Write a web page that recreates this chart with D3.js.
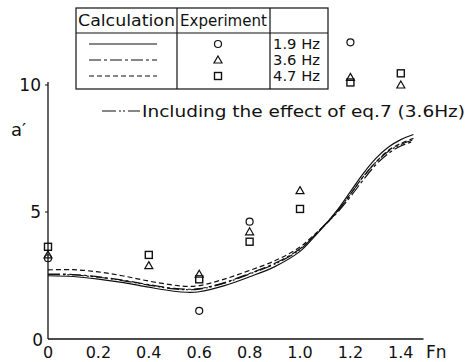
<!DOCTYPE html>
<html>
<head>
<meta charset="utf-8">
<script src="https://cdn.jsdelivr.net/npm/d3@7"></script>
<style>
  body { margin: 0; background: #fff; }
  text { font-family: "DejaVu Sans", sans-serif; fill: #111; }
</style>
</head>
<body>
<div id="chart"></div>
<script>
// Froude number grid of the calculated curves
var fnGrid = [0, 0.1, 0.2, 0.3, 0.4, 0.5, 0.55, 0.6, 0.7, 0.8, 0.9, 1.0, 1.05, 1.1, 1.15, 1.2, 1.25, 1.3, 1.35, 1.4, 1.45];
var calc19 = [2.49, 2.46, 2.36, 2.22, 2.04, 1.88, 1.84, 1.86, 2.1, 2.45, 2.85, 3.45, 3.95, 4.5, 5.1, 5.8, 6.5, 7.1, 7.55, 7.85, 8.05];
var calc36 = [2.56, 2.54, 2.45, 2.31, 2.14, 1.99, 1.96, 1.98, 2.22, 2.58, 2.98, 3.55, 4.0, 4.5, 5.0, 5.6, 6.25, 6.85, 7.3, 7.6, 7.78];
var calc47 = [2.72, 2.73, 2.64, 2.48, 2.28, 2.12, 2.07, 2.1, 2.36, 2.7, 3.08, 3.62, 4.05, 4.5, 5.05, 5.7, 6.38, 6.95, 7.42, 7.7, 7.9];
var calcEq7 = [2.54, 2.52, 2.43, 2.29, 2.12, 1.97, 1.94, 1.96, 2.2, 2.56, 2.95, 3.52, 4.0, 4.52, 5.05, 5.7, 6.38, 6.95, 7.38, 7.66, 7.84];

// experiments: [Fn, a']
var exp19 = [[0, 3.18], [0.6, 1.11], [0.8, 4.62], [1.2, 11.68]];
var exp36 = [[0, 3.31], [0.4, 2.89], [0.6, 2.55], [0.8, 4.22], [1.0, 5.84], [1.2, 10.3], [1.4, 10.0]];
var exp47 = [[0, 3.63], [0.4, 3.31], [0.6, 2.35], [0.8, 3.83], [1.0, 5.12], [1.2, 10.1], [1.4, 10.46]];

var xTicks = [0, 0.2, 0.4, 0.6, 0.8, 1.0, 1.2, 1.4];
var yTicks = [0, 5, 10];
var freqLabels = ["1.9 Hz", "3.6 Hz", "4.7 Hz"];

var width = 473, height = 362;

var svg = d3.select("#chart").append("svg")
  .attr("width", width)
  .attr("height", height);

var x = d3.scaleLinear().domain([0, 1.49]).range([48, 423.5]);
var y = d3.scaleLinear().domain([0, 10]).range([339, 85]);

// axes
svg.append("line")
  .attr("x1", x(0)).attr("x2", x(0))
  .attr("y1", y(0)).attr("y2", y(10) - 3)
  .attr("stroke", "#111").attr("stroke-width", 1.3);
svg.append("line")
  .attr("x1", x(0)).attr("x2", x(1.49))
  .attr("y1", y(0)).attr("y2", y(0))
  .attr("stroke", "#111").attr("stroke-width", 1.3);

svg.selectAll(".ytick").data(yTicks.slice(1)).enter().append("line")
  .attr("x1", x(0) - 3).attr("x2", x(0))
  .attr("y1", function (d) { return y(d); })
  .attr("y2", function (d) { return y(d); })
  .attr("stroke", "#111");

svg.selectAll(".ylab").data(yTicks).enter().append("text")
  .attr("x", function (d) { return d === 0 ? 43 : 41; })
  .attr("y", function (d) { return y(d) + (d === 0 ? 7 : 6); })
  .attr("text-anchor", "end")
  .style("font-size", "17px")
  .text(function (d) { return d; });

svg.selectAll(".xlab").data(xTicks).enter().append("text")
  .attr("x", function (d) { return x(d); })
  .attr("y", 358)
  .attr("text-anchor", "middle")
  .style("font-size", "16px")
  .text(function (d) { return d === 0 ? "0" : d.toFixed(1); });

svg.append("text").attr("x", 426).attr("y", 358)
  .style("font-size", "17px").text("Fn");
svg.append("text").attr("x", 11).attr("y", 136)
  .style("font-size", "18px").text("a\u2032");

// calculated curves
var line = d3.line()
  .x(function (d, i) { return x(fnGrid[i]); })
  .y(function (d) { return y(d); })
  .curve(d3.curveCatmullRom);

var curves = [
  { v: calc19, dash: null },
  { v: calc36, dash: "12,3,3,3" },
  { v: calc47, dash: "5,3" },
  { v: calcEq7, dash: "12,3,2,2,2,3" }
];
svg.selectAll(".curve").data(curves).enter().append("path")
  .attr("d", function (d) { return line(d.v); })
  .attr("fill", "none")
  .attr("stroke", "#111")
  .attr("stroke-width", 1.2)
  .attr("stroke-dasharray", function (d) { return d.dash; });

// markers
function drawMarker(g, kind, cx, cy) {
  if (kind === "circle") {
    g.append("circle").attr("cx", cx).attr("cy", cy).attr("r", 3.5)
      .attr("fill", "none").attr("stroke", "#111").attr("stroke-width", 1.2);
  } else if (kind === "triangle") {
    g.append("path")
      .attr("d", "M" + cx + "," + (cy - 4) + "L" + (cx + 4) + "," + (cy + 3) + "L" + (cx - 4) + "," + (cy + 3) + "Z")
      .attr("fill", "none").attr("stroke", "#111").attr("stroke-width", 1.2);
  } else {
    g.append("rect").attr("x", cx - 3.5).attr("y", cy - 3.5).attr("width", 7).attr("height", 7)
      .attr("fill", "none").attr("stroke", "#111").attr("stroke-width", 1.4);
  }
}

var pts = svg.append("g");
exp19.forEach(function (d) { drawMarker(pts, "circle", x(d[0]), y(d[1])); });
exp36.forEach(function (d) { drawMarker(pts, "triangle", x(d[0]), y(d[1])); });
exp47.forEach(function (d) { drawMarker(pts, "square", x(d[0]), y(d[1])); });

// legend table
var tab = svg.append("g");
tab.append("rect").attr("x", 76).attr("y", 8).attr("width", 252).attr("height", 81)
  .attr("fill", "none").attr("stroke", "#111").attr("stroke-width", 1.2);
tab.append("line").attr("x1", 76).attr("x2", 328).attr("y1", 33).attr("y2", 33)
  .attr("stroke", "#111").attr("stroke-width", 1.2);
[177, 270].forEach(function (cx) {
  tab.append("line").attr("x1", cx).attr("x2", cx).attr("y1", 8).attr("y2", 89)
    .attr("stroke", "#111").attr("stroke-width", 1.2);
});
tab.append("text").attr("x", 78).attr("y", 26).style("font-size", "16px")
  .attr("textLength", 97).attr("lengthAdjust", "spacingAndGlyphs").text("Calculation");
tab.append("text").attr("x", 180).attr("y", 26).style("font-size", "16px")
  .attr("textLength", 87).attr("lengthAdjust", "spacingAndGlyphs").text("Experiment");

var rowY = [44, 60, 76];
var kinds = ["circle", "triangle", "square"];
freqLabels.forEach(function (lab, i) {
  tab.append("line").attr("x1", 89).attr("x2", 157)
    .attr("y1", rowY[i]).attr("y2", rowY[i])
    .attr("stroke", "#111").attr("stroke-width", 1.2)
    .attr("stroke-dasharray", curves[i].dash);
  drawMarker(tab, kinds[i], 218, rowY[i]);
  tab.append("text").attr("x", 273).attr("y", rowY[i] + 5).style("font-size", "14px")
    .attr("textLength", 47).attr("lengthAdjust", "spacingAndGlyphs").text(lab);
});

svg.append("line").attr("x1", 102).attr("x2", 140).attr("y1", 111).attr("y2", 111)
  .attr("stroke", "#111").attr("stroke-width", 1.2)
  .attr("stroke-dasharray", "14,3,2,2,2,3,14");
svg.append("text").attr("x", 142).attr("y", 117).style("font-size", "16px")
  .attr("textLength", 323).attr("lengthAdjust", "spacingAndGlyphs")
  .text("Including the effect of eq.7 (3.6Hz)");
</script>
</body>
</html>
